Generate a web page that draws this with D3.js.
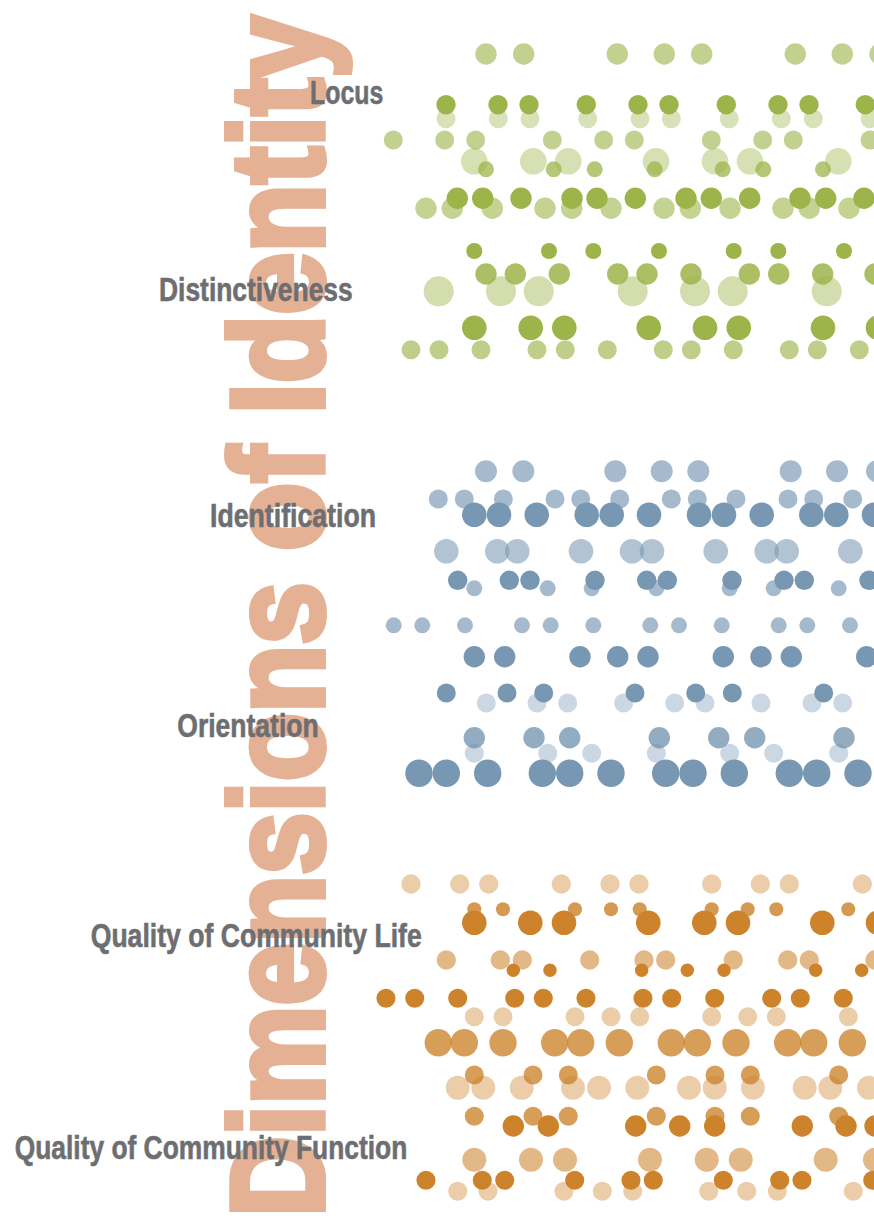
<!DOCTYPE html>
<html>
<head>
<meta charset="utf-8">
<script src="https://cdn.jsdelivr.net/npm/d3@7"></script>
<style>
  html, body { margin: 0; padding: 0; background: #ffffff; }
  svg { display: block; }
</style>
</head>
<body>
<svg id="chart" width="874" height="1222"></svg>
<script>
// ---------------- DATA ----------------
const title = "Dimensions of Identity";
const labels = ["Locus", "Distinctiveness", "Identification", "Orientation",
                "Quality of Community Life", "Quality of Community Function"];
const groups = ["green", "blue", "orange"];

// one entry per row of dots
const rowGroup = [
  0,0,0,0,0,0,0,0,0,0,0,0,0,
  1,1,1,1,1,1,1,1,1,1,1,1,1,
  2,2,2,2,2,2,2,2,2,2,2,2,2,2,2
];
const rowLevel = [
  54, 104.7, 118.7, 140, 161.3, 169.3, 198.3, 208.3, 251, 274, 291.3, 327.7, 349.7,
  471.3, 499, 514.7, 551.3, 580.3, 588.3, 625.3, 656.7, 693, 703, 737.7, 753.3, 773.3,
  884, 909.3, 922.7, 960, 970.3, 998.3, 1016.7, 1042.7, 1075, 1087.7, 1116.3, 1126, 1159.7, 1180.3, 1191.3
];
const rowSize = [
  10.7, 9.7, 9.5, 9.5, 13.3, 8, 10.7, 10.7, 8, 10.7, 15, 12.3, 9.5,
  11, 9.5, 12.3, 12.3, 9.7, 8, 8, 10.7, 9.5, 9.5, 10.7, 9.5, 13.7,
  9.7, 7, 12.3, 9.7, 6.7, 9.5, 9.5, 13.7, 9.5, 12, 9.5, 10.7, 12, 9.5, 9.5
];
const rowTone = [
  0.62, 1, 0.4, 0.62, 0.42, 0.75, 1, 0.6, 1, 0.85, 0.45, 1, 0.65,
  0.66, 0.66, 1, 0.57, 1, 0.66, 0.66, 1, 1, 0.38, 0.8, 0.38, 1,
  0.4, 0.82, 1, 0.57, 1, 1, 0.4, 0.78, 0.78, 0.4, 0.78, 1, 0.57, 1, 0.4
];
const rowValues = [
  [112, 149.7, 243.3, 290.3, 327.7, 421.3, 468.3, 506],
  [72, 124, 155, 212.3, 264, 295, 352.3, 404, 435, 491.3],
  [72, 124.3, 156, 213.7, 266, 297.3, 355.3, 407.3, 439.3, 496],
  [19.3, 70.7, 101.7, 178.3, 229.7, 260.3, 337.3, 388.7, 419.3, 496],
  [100.3, 159.3, 194.3, 282, 341, 376, 464.3],
  [112, 179.7, 220.7, 280.7, 348.7, 389.3, 449],
  [83.3, 108.7, 147, 198, 223, 261.3, 312, 337.3, 375.7, 426, 451.7, 490],
  [52, 78.3, 118.3, 171, 197.7, 237, 290, 316.3, 356, 409, 435.3, 475],
  [100.3, 175, 219.3, 285, 359.7, 404.3, 470],
  [112, 141.3, 185.3, 243.7, 273, 317, 375.3, 404.7, 448.7, 501],
  [64.7, 127, 164.7, 258.7, 321, 358.7, 452.7],
  [100.3, 156.7, 190.3, 274.7, 331, 364.7, 449, 504],
  [37, 65, 107, 163, 191.3, 233.3, 289.3, 317.3, 359.3, 415.3, 443.3, 485.3],

  [112, 149.3, 241.3, 287.7, 324.3, 416.7, 463, 503],
  [64.3, 90.3, 129.3, 181, 206.7, 245.7, 297.3, 323.3, 362, 414, 439.7, 478.7],
  [100.3, 125, 162.7, 212.7, 237.7, 275, 325, 350, 387.7, 437.3, 462.3, 500],
  [72.3, 123.3, 143.3, 207, 258, 278, 341.7, 392.7, 412.7, 476.3],
  [83.7, 135.3, 156, 221, 272.7, 293.3, 358, 410, 430.3, 495],
  [100.3, 173.7, 217.7, 282.3, 355.7, 399.7, 464.7],
  [19.7, 48.3, 91, 148, 176.7, 219.3, 276.3, 305, 347.7, 404.7, 433.3, 476],
  [100.3, 130.7, 206, 243.7, 274, 349.3, 387, 417.3, 492.7],
  [72.3, 133, 169.7, 261, 321.7, 358.3, 449.7],
  [112.3, 163, 193.7, 249.7, 300.7, 331, 387, 438, 468.7],
  [100.3, 160, 195.7, 285.3, 344.7, 380.7, 470],
  [100.3, 173.7, 217.7, 282.3, 355.7, 399.7, 464.7],
  [45, 72.3, 113.7, 168.3, 195.7, 237, 291.7, 319, 360.3, 415.3, 442.7, 484],

  [37, 85.7, 114.7, 187.3, 236, 265, 337.7, 386.3, 415.3, 488.3],
  [100.3, 129, 201, 237, 265.7, 337.7, 373.7, 402.3, 474.3],
  [100.3, 156.3, 190, 274.3, 330.3, 364, 448.3, 504],
  [72.3, 126.3, 148.3, 215.7, 270, 291.7, 359.3, 413.7, 435.3, 501],
  [139.3, 176, 267.7, 313.3, 350, 441.7, 487.7],
  [12, 40.7, 83.7, 140.7, 169.3, 212, 269, 297.7, 340.7, 397.7, 426.3, 469.3],
  [100.3, 129, 201, 237, 265.7, 337.7, 373.7, 402.3, 474.3],
  [64.3, 90.3, 129, 180.7, 206.7, 245.3, 297.3, 323.3, 362, 413.7, 439.7, 478.3],
  [100.3, 159, 194.3, 282.3, 341, 376.3, 464.7],
  [83.7, 109.3, 147.7, 199, 225, 263.3, 315, 340.7, 379, 430.7, 456.3, 495],
  [100.3, 159, 194.3, 282.3, 341, 376.3, 464.7],
  [139.3, 174.3, 261.7, 305.7, 340.7, 428.3, 472, 501],
  [100.3, 157, 191, 276, 332.7, 366.7, 451.7, 501],
  [52, 108.3, 130.7, 200.7, 257, 279.3, 349.3, 405.7, 428, 498.7],
  [83.7, 114, 190, 228.3, 258.7, 334.7, 372.7, 403.3, 479.3]
];

// ---------------- LAYOUT / STYLE ----------------
const W = 874, H = 1222;
const groupColor = d3.scaleOrdinal().domain(groups).range(["#9db44a", "#7797b3", "#cc832b"]);
const labelLayout = [
  { left: 310, base: 104, len: 73.3 },
  { left: 159, base: 300.7, len: 193.7 },
  { left: 210, base: 526.7, len: 166 },
  { left: 177.3, base: 737.3, len: 141.4 },
  { left: 90.7, base: 946.7, len: 331 },
  { left: 14.7, base: 1159.3, len: 392.6 }
];
const FONT = "'Liberation Sans', Arial, Helvetica, sans-serif";

const x = d3.scaleLinear().domain([0, 500]).range([374, 874]);
const y = d3.scaleLinear().domain([0, H]).range([0, H]);
const r = d3.scaleLinear().domain([0, 20]).range([0, 20]);

const svg = d3.select("#chart");

// big vertical title (condensed by textLength)
svg.append("text")
  .attr("transform", `translate(323,1217) rotate(-90)`)
  .attr("x", 0).attr("y", 0)
  .attr("textLength", 1201)
  .attr("lengthAdjust", "spacingAndGlyphs")
  .style("font-family", FONT)
  .style("font-weight", "bold")
  .style("font-size", "132px")
  .style("fill", "#e4b195")
  .style("stroke", "#e4b195")
  .style("stroke-width", 6)
  .style("stroke-linejoin", "miter")
  .text(title);

// labels
svg.append("g").selectAll("text")
  .data(labels)
  .join("text")
  .attr("x", (d, i) => labelLayout[i].left)
  .attr("y", (d, i) => labelLayout[i].base)
  .attr("textLength", (d, i) => labelLayout[i].len)
  .attr("lengthAdjust", "spacingAndGlyphs")
  .style("font-family", FONT)
  .style("font-weight", "bold")
  .style("font-size", "33px")
  .style("fill", "#6d6e71")
  .style("stroke", "#6d6e71")
  .style("stroke-width", 0.6)
  .text(d => d);

// dots
const rows = rowValues.map((vals, i) => ({ i, vals }));
const dotLayer = svg.append("g");
dotLayer.selectAll("g.row")
  .data(rows)
  .join("g")
  .attr("class", "row")
  .each(function (row) {
    const i = row.i;
    d3.select(this).selectAll("circle")
      .data(row.vals)
      .join("circle")
      .attr("cx", v => x(v))
      .attr("cy", y(rowLevel[i]))
      .attr("r", r(rowSize[i]))
      .attr("fill", groupColor(groups[rowGroup[i]]))
      .attr("fill-opacity", rowTone[i]);
  });
</script>
</body>
</html>
